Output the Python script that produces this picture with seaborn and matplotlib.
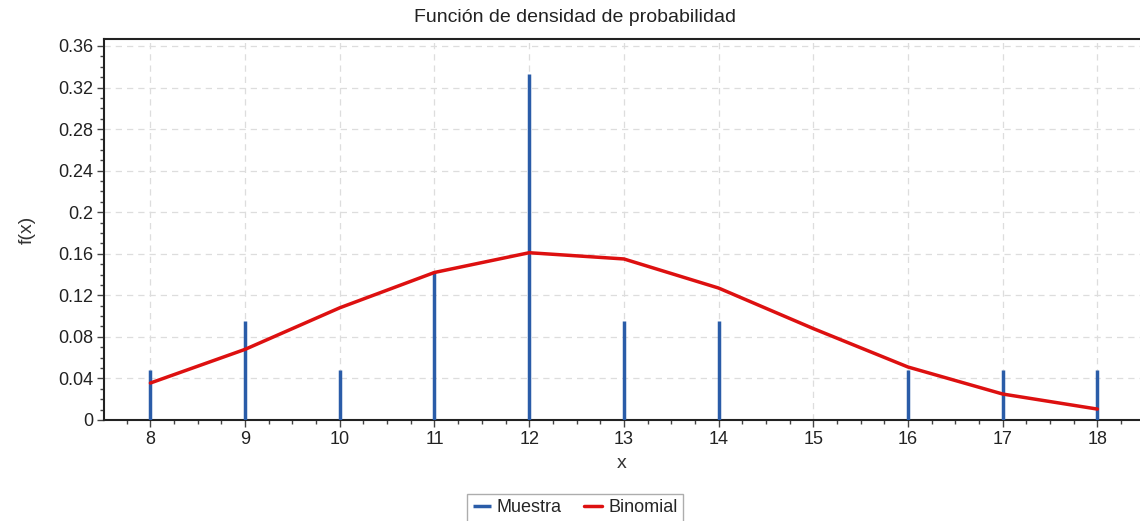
import matplotlib
matplotlib.use("Agg")
import matplotlib.pyplot as plt
import seaborn as sns
import pandas as pd
import numpy as np
from matplotlib.ticker import MultipleLocator, FuncFormatter

# Data
muestra_x = [8, 9, 10, 11, 12, 13, 14, 16, 17, 18]
muestra_y = [0.048, 0.095, 0.048, 0.143, 0.333, 0.095, 0.095, 0.048, 0.048, 0.048]
binom_x = [8, 9, 10, 11, 12, 13, 14, 15, 16, 17, 18]
binom_y = [0.0356, 0.068, 0.108, 0.142, 0.161, 0.155, 0.127, 0.088, 0.051, 0.025, 0.0105]
title = "Función de densidad de probabilidad"
xlabel = "x"
ylabel = "f(x)"

sns.set_theme(style="white")
plt.rcParams['font.family'] = ['Liberation Sans', 'DejaVu Sans']

fig = plt.figure(figsize=(11.4, 5.21), dpi=100)
ax = fig.add_axes([104/1140, 1 - 420/521, (1140-104)/1140, (420-39)/521])

blue = "#2a5ca8"
red = "#dd1010"

ax.vlines(muestra_x, 0, muestra_y, colors=blue, linewidth=2.5, label="Muestra", zorder=3)
df = pd.DataFrame({"x": binom_x, "y": binom_y})
sns.lineplot(data=df, x="x", y="y", ax=ax, color=red, linewidth=2.5, label="Binomial", zorder=4)

ax.set_xlim(7.51, 18.45)
ax.set_ylim(0, 0.3667)

ax.xaxis.set_major_locator(MultipleLocator(1))
ax.xaxis.set_minor_locator(MultipleLocator(0.25))
ax.yaxis.set_major_locator(MultipleLocator(0.04))
ax.yaxis.set_minor_locator(MultipleLocator(0.01))

def yfmt(v, pos):
    s = f"{v:.2f}".rstrip("0").rstrip(".")
    return s if s else "0"
ax.yaxis.set_major_formatter(FuncFormatter(yfmt))
ax.xaxis.set_major_formatter(FuncFormatter(lambda v, p: f"{int(round(v))}"))

ax.tick_params(axis="both", which="major", direction="out", length=5, width=1, color="#444444",
               labelsize=13, labelcolor="#222222", bottom=True, left=True, pad=3)
ax.tick_params(axis="both", which="minor", direction="out", length=3, width=1, color="#444444",
               bottom=True, left=True)

ax.grid(True, which="major", linestyle=(0, (5, 4)), color="#dddddd", linewidth=0.9)
ax.set_axisbelow(True)

for s in ["left", "bottom", "top"]:
    ax.spines[s].set_visible(True)
    ax.spines[s].set_color("#222222")
    ax.spines[s].set_linewidth(1.5)
ax.spines["right"].set_visible(False)

ax.set_xlabel(xlabel, fontsize=14, color="#333333", labelpad=5)
ax.set_ylabel(ylabel, fontsize=14, color="#333333", labelpad=16)
fig.text(575/1140, 1 - 18/521, title, ha="center", va="center", fontsize=14, color="#222222")

leg = ax.legend(loc="center", bbox_to_anchor=(575/1140, 1 - 508/521), bbox_transform=fig.transFigure,
                ncol=2, frameon=True, fancybox=False, fontsize=13, handlelength=1.0,
                handletextpad=0.35, columnspacing=1.2, borderpad=0.3, borderaxespad=0.0,
                edgecolor="#999999")
leg.get_frame().set_linewidth(1.0)

fig.savefig("out.png", dpi=100)
